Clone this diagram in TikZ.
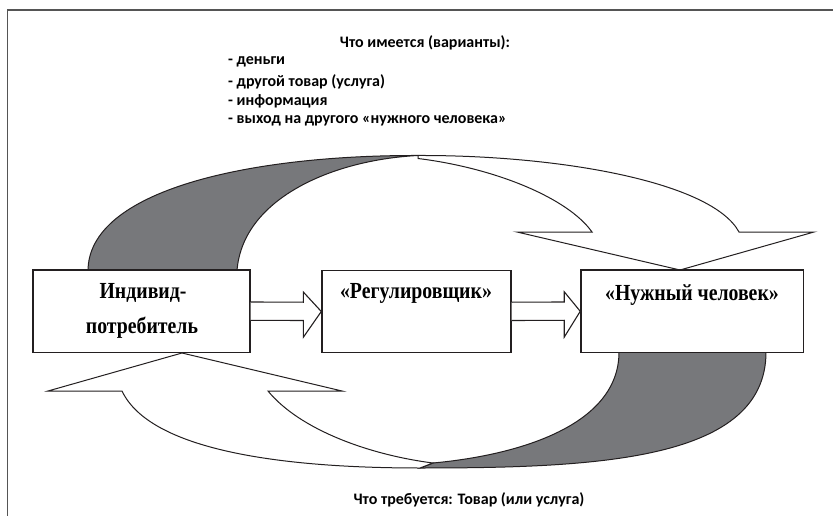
\documentclass[tikz,border=0pt]{standalone}
\usepackage{fontspec}
\setmainfont{Liberation Serif}
\newfontfamily\boxfont{Liberation Serif}[FakeStretch=0.86]
\newfontfamily\capfont{Carlito}
\usetikzlibrary{calc}
\definecolor{ink}{HTML}{231F20}
\definecolor{band}{HTML}{77787B}
\definecolor{framecol}{HTML}{555555}
\tikzset{
  boxnode/.style={draw=ink, line width=1.4pt, fill=white, rectangle, inner sep=0pt},
  boxtext/.style={font=\boxfont\bfseries\fontsize{23}{26}\selectfont, inner sep=0pt, anchor=center},
  captext/.style={font=\capfont\bfseries\fontsize{16}{19}\selectfont, inner sep=0pt},
  shapeline/.style={draw=ink, line width=1pt, line join=miter},
  bandshape/.style={shapeline, fill=band},
  whiteshape/.style={shapeline, fill=white},
  blockarrow/.style={draw=ink, line width=1.1pt, fill=white, line join=miter}
}
\begin{document}
\begin{tikzpicture}[x=1pt,y=-1pt]
\useasboundingbox (0,0) rectangle (833,516);
% frame
\draw[framecol, line width=1.4pt] (7.3,516) -- (7.3,10) -- (833,10);

% texts at top
\node[captext, anchor=center] (head) at (425,43) {Что имеется (варианты):};
\node[captext, anchor=west] (l1) at (228,62) {- деньги};
\node[captext, anchor=west] (l2) at (228,81.5) {- другой товар (услуга)};
\node[captext, anchor=west] (l3) at (228,101) {- информация};
\node[captext, anchor=west] (l4) at (228,120.5) {- выход на другого «нужного человека»};
\node[captext, anchor=center] (foot) at (469,500) {Что требуется: Товар (или услуга)};

% top gray band
\path[bandshape] (88,271) .. controls (88,190) and (250,155) .. (418,155.5)
  .. controls (330,160) and (242,200) .. (237,271) -- cycle;
% top white curved arrow
\path[whiteshape] (418,155.5) .. controls (560,155) and (712,182) .. (739,232)
  -- (814,232) -- (680,270) -- (517,232) -- (592,232)
  .. controls (568,198) and (495,168) .. (418,158.5) -- cycle;

% bottom gray band
\path[bandshape] (766,352) .. controls (766,460) and (600,468) .. (420,468)
  -- (433,463) .. controls (520,455) and (619,425) .. (619,352) -- cycle;
% bottom white curved arrow
\path[whiteshape] (420,468) .. controls (280,468) and (150,450) .. (122,391)
  -- (48,391) -- (182,353) -- (342,391) -- (268,391)
  .. controls (300,430) and (370,455) .. (433,463) -- cycle;

% boxes
\node[boxnode, minimum width=217pt, minimum height=82.5pt] (b1) at (141.5,311.3) {};
\node[boxnode, minimum width=189pt, minimum height=82pt] (b2) at (416.5,311.5) {};
\node[boxnode, minimum width=222.5pt, minimum height=82.5pt] (b3) at (692.2,311.3) {};

\node[boxtext] (t1a) at (143,293) {Индивид-};
\node[boxtext] (t1b) at (142,328) {потребитель};
\node[boxtext] (t2) at (416,293) {«Регулировщик»};
\node[boxtext] (t3) at (692,295) {«Нужный человек»};

% block arrows
\path[blockarrow] ($(b1.east)+(0,-9.3)$) -- ($(b2.west)+(-18,-9.3)$) -- ($(b2.west)+(-18,-19.5)$)
  -- (b2.west) -- ($(b2.west)+(-18,25.8)$) -- ($(b2.west)+(-18,9)$) -- ($(b1.east)+(0,9)$);
\path[blockarrow] ($(b2.east)+(0,-9.3)$) -- ($(b3.west)+(-16,-9.3)$) -- ($(b3.west)+(-16,-19.5)$)
  -- (b3.west) -- ($(b3.west)+(-16,25.8)$) -- ($(b3.west)+(-16,9)$) -- ($(b2.east)+(0,9)$);
\end{tikzpicture}
\end{document}
